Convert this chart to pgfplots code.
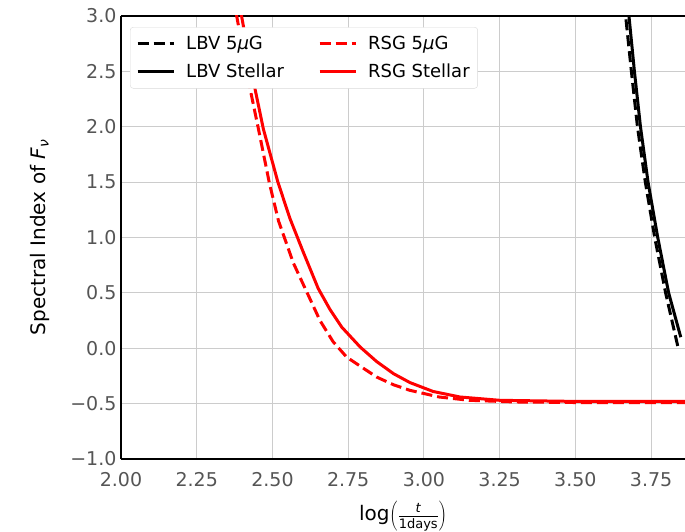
\documentclass[border=0pt]{standalone}
\usepackage{pgfplots}
\pgfplotsset{compat=1.18}
\usepackage{fontspec}
\setmainfont{DejaVu Sans}
\definecolor{tickgray}{HTML}{555555}
\definecolor{gridgray}{HTML}{CCCCCC}
\begin{document}
\begin{tikzpicture}
\path[use as bounding box] (-121pt,-72pt) rectangle (564pt,459pt);
\begin{axis}[
  scale only axis, width=564pt, height=443pt,
  at={(0,0)}, anchor=south west,
  xmin=2, xmax=3.862, ymin=-1, ymax=3,
  axis x line*=box, axis y line*=left,
  axis line style={black, line width=2pt},
  xtick={2,2.25,2.5,2.75,3,3.25,3.5,3.75},
  xticklabels={2.00,2.25,2.50,2.75,3.00,3.25,3.50,3.75},
  ytick={-1,-0.5,0,0.5,1,1.5,2,2.5,3},
  yticklabels={−1.0,−0.5,0.0,0.5,1.0,1.5,2.0,2.5,3.0},
  tick style={draw=none},
  ticklabel style={font=\fontsize{19}{22}\selectfont, text=tickgray},
  xticklabel style={yshift=-10pt},
  yticklabel style={xshift=-1pt},
  grid=major, major grid style={gridgray, line width=0.9pt},
  xlabel={log$\left(\frac{\mbox{\fontsize{13}{14}\selectfont\itshape t}}{\mbox{\fontsize{13}{14}\selectfont 1days}}\right)$},
  xlabel style={font=\fontsize{20}{24}\selectfont, yshift=-7pt},
  ylabel={Spectral Index of \textit{F}\raisebox{-0.3ex}{\fontsize{14}{15}\selectfont\textit{ν}}},
  ylabel style={font=\fontsize{20}{24}\selectfont, yshift=14pt},
  legend columns=2,
  legend cell align=left,
  legend style={at={(0.016,0.975)}, anchor=north west, draw=black!15, rounded corners=3pt,
    fill=white, font=\fontsize{18}{22}\selectfont, inner xsep=6pt, inner ysep=7pt,
    /tikz/every even column/.append style={column sep=32pt},
    /tikz/every odd column/.append style={column sep=9pt},
    row sep=9pt},
  legend image code/.code={\draw[#1] (0pt,0pt) -- (36pt,0pt);},
]
\addplot[black, line width=3pt, dash pattern=on 11pt off 5pt] coordinates {
 (3.648,3.4) (3.666,3.0) (3.685,2.5) (3.705,2.0) (3.731,1.5) (3.762,1.0) (3.798,0.5) (3.838,0.02)
};
\addlegendentry{LBV 5\textit{μ}G}
\addplot[red, line width=3pt, dash pattern=on 11pt off 5pt] coordinates {
 (2.365,3.3) (2.382,3.0) (2.418,2.45) (2.453,1.99) (2.490,1.49) (2.520,1.15) (2.569,0.77)
 (2.657,0.25) (2.70,0.06) (2.745,-0.08) (2.80,-0.18) (2.844,-0.26) (2.90,-0.33) (2.954,-0.38) (3.05,-0.44) (3.15,-0.47)
 (3.3,-0.485) (3.5,-0.49) (3.7,-0.49) (3.87,-0.49)
};
\addlegendentry{RSG 5\textit{μ}G}
\addplot[black, line width=3pt] coordinates {
 (3.659,3.4) (3.677,3.0) (3.695,2.5) (3.715,2.0) (3.740,1.5) (3.772,1.0) (3.808,0.5) (3.848,0.1)
};
\addlegendentry{LBV Stellar}
\addplot[red, line width=3pt] coordinates {
 (2.38,3.3) (2.398,3.0) (2.438,2.40) (2.470,1.98) (2.518,1.50) (2.558,1.17) (2.60,0.88) (2.651,0.54)
 (2.69,0.35) (2.729,0.19) (2.79,0.01) (2.844,-0.12) (2.90,-0.23) (2.954,-0.31) (3.03,-0.39) (3.119,-0.44) (3.25,-0.47)
 (3.5,-0.48) (3.7,-0.48) (3.87,-0.48)
};
\addlegendentry{RSG Stellar}
\end{axis}
\end{tikzpicture}
\end{document}
